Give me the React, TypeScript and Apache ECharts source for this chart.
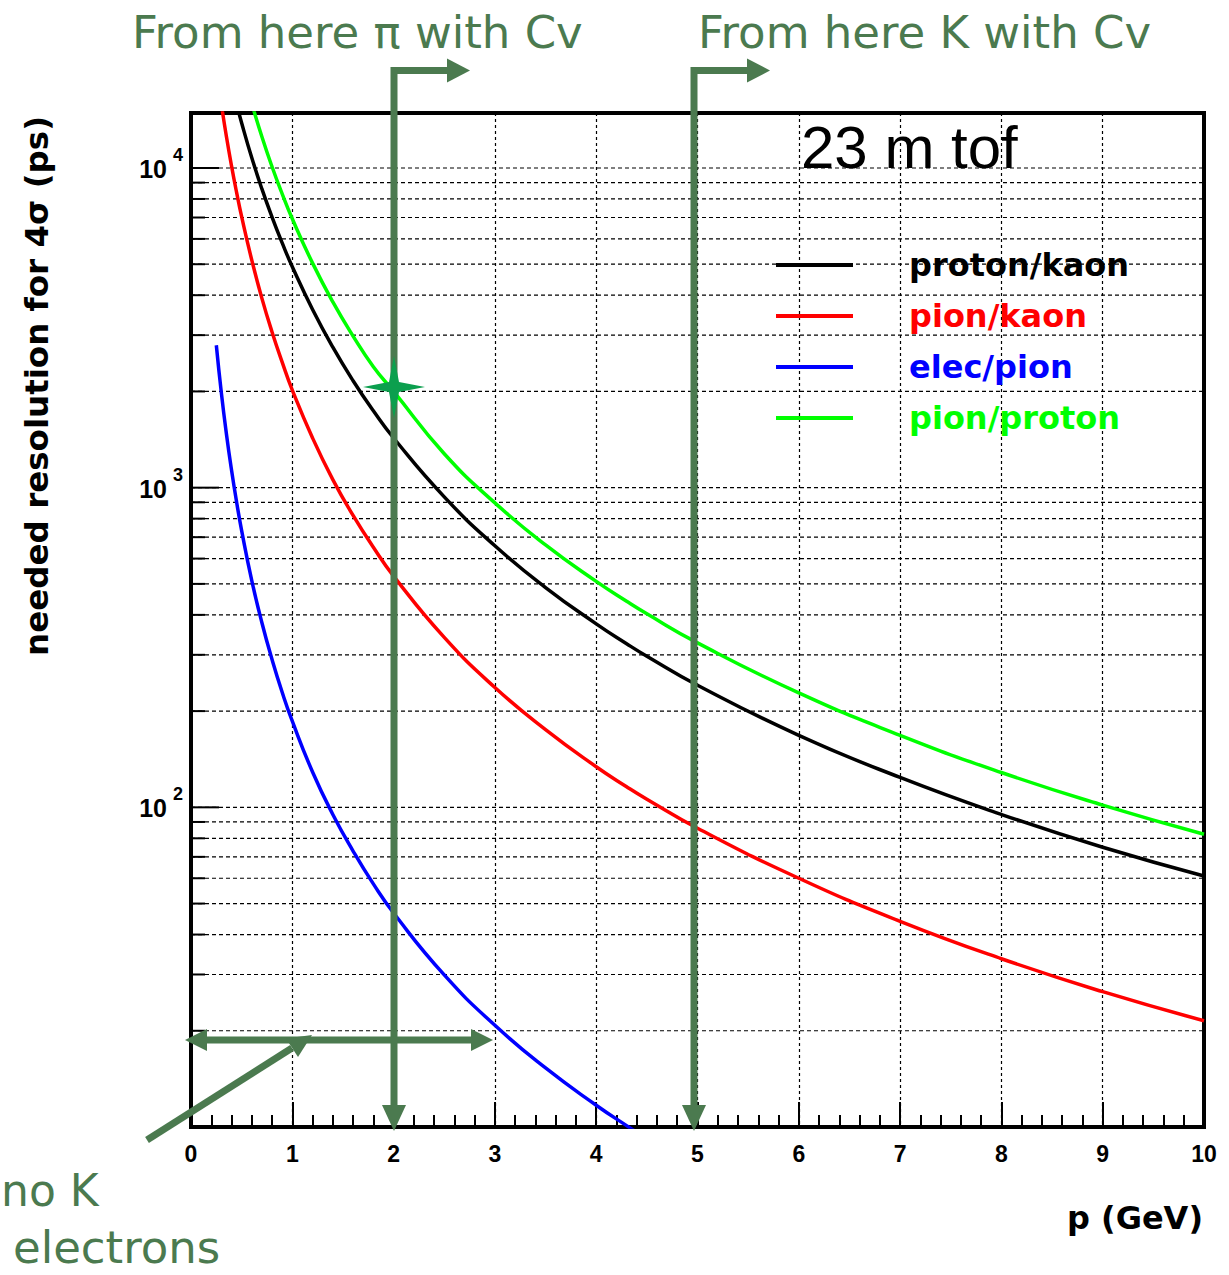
import React, { useEffect, useRef } from "react";
import * as echarts from "echarts";

const momentum = [0.25, 0.3, 0.35, 0.4, 0.45, 0.5, 0.6, 0.7, 0.8, 0.9, 1, 1.2, 1.4, 1.6, 1.8, 2, 2.5, 3, 3.5, 4, 4.3, 4.5, 5, 6, 7, 8, 9, 10];

// needed resolution for 4 sigma (ps)
const protonKaon = [null, null, null, null, 15880, 13830, 10760, 8600, 7020, 5830, 4910, 3610, 2750, 2160, 1740, 1430, 936, 658, 487, 375, 325, 297, 241, 168, 124, 95, 75, 61];
const pionKaon = [null, 15780, 12520, 10150, 8390, 7040, 5150, 3910, 3070, 2470, 2020, 1430, 1060, 819, 651, 529, 340, 237, 175, 134, 116, 106, 86, 60, 44, 33.6, 26.5, 21.5];
const elecPion = [2790, 1975, 1470, 1135, 902, 734, 512, 378, 290, 229, 186, 129, 95, 73, 57.6, 46.7, 29.9, 20.8, 15.3, 11.7, 10.1, 9.2, null, null, null, null, null, null];
const pionProton = [null, null, null, null, null, null, 15910, 12520, 10090, 8300, 6935, 5040, 3810, 2980, 2390, 2000, 1277, 896, 662, 509, 441, 403, 327, 228, 168, 128.5, 101.6, 82.4];

const seriesNames = ["proton/kaon", "pion/kaon", "elec/pion", "pion/proton"];
const seriesColors = ["#000000", "#ff0000", "#0000ff", "#00ff00"];

// horizontal grid lines of the log axis (1..9 x decade)
const yGridValues = [
  20, 30, 40, 50, 60, 70, 80, 90, 100,
  200, 300, 400, 500, 600, 700, 800, 900, 1000,
  2000, 3000, 4000, 5000, 6000, 7000, 8000, 9000, 10000,
];
const yLabelExponents = [2, 3, 4];

const X_MIN = 0;
const X_MAX = 10;
const Y_MIN = 10;
const Y_MAX = 14860;

const ANNOT = "#4b7a4f";

function pairs(vals: (number | null)[]) {
  const out: number[][] = [];
  momentum.forEach((p, i) => {
    const v = vals[i];
    if (v != null) out.push([p, v]);
  });
  return out;
}

export default function App() {
  const ref = useRef<HTMLDivElement>(null);

  useEffect(() => {
    document.body.style.margin = "0";
    const chart = echarts.init(ref.current as HTMLDivElement, undefined, { renderer: "svg" });

    const allVals = [protonKaon, pionKaon, elecPion, pionProton];

    const lineSeries = allVals.map((vals, i) => ({
      type: "line",
      name: seriesNames[i],
      data: pairs(vals),
      showSymbol: false,
      smooth: 0.5,
      clip: true,
      silent: true,
      z: 5,
      lineStyle: { color: seriesColors[i], width: 3.5 },
      itemStyle: { color: seriesColors[i] },
    }));

    const gridSeries = {
      type: "custom",
      name: "ygrid",
      silent: true,
      z: 2,
      data: yGridValues.map((v) => [0, v]),
      encode: { x: 0, y: 1 },
      renderItem: (params: any, api: any) => {
        const v = api.value(1);
        const p0 = api.coord([X_MIN, v]);
        const p1 = api.coord([X_MAX, v]);
        const lg = Math.log10(v);
        const major = Math.abs(lg - Math.round(lg)) < 1e-6;
        return {
          type: "group",
          children: [
            {
              type: "line",
              shape: { x1: p0[0], y1: p0[1], x2: p1[0], y2: p1[1] },
              style: { stroke: "#000", lineWidth: 1.2, lineDash: [4, 3] },
            },
            {
              type: "line",
              shape: { x1: p0[0], y1: p0[1], x2: p0[0] + (major ? 28 : 14), y2: p0[1] },
              style: { stroke: "#000", lineWidth: 2 },
            },
          ],
        };
      },
    };

    const arrowStyle = { stroke: ANNOT, lineWidth: 7, fill: "none", lineJoin: "miter" };
    const headStyle = { fill: ANNOT };

    const cornerArrow = (x: number) => [
      {
        type: "polyline",
        shape: { points: [[x + 54, 70.5], [x, 70.5], [x, 1108]] },
        style: arrowStyle,
        z: 100,
      },
      {
        type: "polygon",
        shape: { points: [[x + 53, 58.5], [x + 53, 82.5], [x + 76, 70.5]] },
        style: headStyle,
        z: 100,
      },
      {
        type: "polygon",
        shape: { points: [[x - 12, 1105], [x + 12, 1105], [x, 1131]] },
        style: headStyle,
        z: 100,
      },
    ];

    const option: any = {
      animation: false,
      backgroundColor: "#ffffff",
      grid: {
        left: 191,
        top: 113,
        width: 1013,
        height: 1014,
        show: true,
        borderColor: "#000",
        borderWidth: 4,
        backgroundColor: "transparent",
      },
      legend: {
        orient: "vertical",
        left: 776,
        top: 249,
        padding: 0,
        itemWidth: 77,
        itemHeight: 4,
        itemGap: 19,
        icon: "rect",
        selectedMode: false,
        data: seriesNames.map((n, i) => ({ name: n, textStyle: { color: seriesColors[i] } })),
        formatter: "{t|{name}}",
        textStyle: {
          fontFamily: "DejaVu Sans",
          fontWeight: "bold",
          fontSize: 32,
          lineHeight: 32,
          rich: {
            t: {
              fontFamily: "DejaVu Sans",
              fontWeight: "bold",
              fontSize: 32,
              lineHeight: 32,
              padding: [0, 0, 0, 51],
            },
          },
        },
      },
      xAxis: {
        type: "value",
        min: X_MIN,
        max: X_MAX,
        interval: 1,
        axisLine: { lineStyle: { color: "#000", width: 3 } },
        axisTick: { inside: true, length: 25, lineStyle: { color: "#000", width: 2 } },
        minorTick: { show: true, splitNumber: 5, length: 12, lineStyle: { color: "#000", width: 2 } },
        splitLine: { show: true, lineStyle: { color: "#000", width: 1.2, type: [3, 3] } },
        axisLabel: {
          margin: 15,
          color: "#000",
          fontFamily: "Liberation Sans",
          fontWeight: "bold",
          fontSize: 23,
        },
      },
      yAxis: {
        type: "log",
        logBase: 10,
        min: Y_MIN,
        max: Y_MAX,
        axisLine: { lineStyle: { color: "#000", width: 3 } },
        axisTick: { show: false },
        splitLine: { show: false },
        axisLabel: {
          showMaxLabel: false,
          showMinLabel: false,
          margin: 8,
          color: "#000",
          formatter: (v: number) => {
            const lg = Math.log10(v);
            const e = Math.round(lg);
            if (Math.abs(lg - e) > 1e-6 || yLabelExponents.indexOf(e) < 0) return "";
            return `{b|10}{s|${e}}`;
          },
          rich: {
            b: {
              fontFamily: "Liberation Sans",
              fontWeight: "bold",
              fontSize: 25,
              color: "#000",
              padding: [2, 0, 0, 0],
            },
            s: {
              fontFamily: "Liberation Sans",
              fontWeight: "bold",
              fontSize: 18,
              color: "#000",
              padding: [0, 0, 26, 6],
            },
          },
        },
      },
      series: [gridSeries, ...lineSeries],
      graphic: [
        {
          type: "text",
          x: 37,
          y: 386,
          rotation: Math.PI / 2,
          style: {
            text: "needed resolution for 4σ (ps)",
            fontFamily: "DejaVu Sans",
            fontWeight: "bold",
            fontSize: 32.5,
            fill: "#000",
            align: "center",
            verticalAlign: "middle",
          },
        },
        {
          type: "text",
          x: 1203,
          y: 1218,
          style: {
            text: "p (GeV)",
            fontFamily: "DejaVu Sans",
            fontWeight: "bold",
            fontSize: 32,
            fill: "#000",
            align: "right",
            verticalAlign: "middle",
          },
        },
        {
          type: "text",
          x: 801,
          y: 147,
          style: {
            text: "23 m tof",
            fontFamily: "Liberation Sans",
            fontSize: 60,
            fill: "#000",
            align: "left",
            verticalAlign: "middle",
          },
        },
        {
          type: "text",
          x: 132,
          y: 32,
          style: {
            text: "From here π with Cv",
            fontFamily: "DejaVu Sans",
            fontSize: 45,
            fill: ANNOT,
            align: "left",
            verticalAlign: "middle",
          },
        },
        {
          type: "text",
          x: 698,
          y: 32,
          style: {
            text: "From here K with Cv",
            fontFamily: "DejaVu Sans",
            fontSize: 45,
            fill: ANNOT,
            align: "left",
            verticalAlign: "middle",
          },
        },
        {
          type: "text",
          x: 1,
          y: 1190,
          style: {
            text: "no K",
            fontFamily: "DejaVu Sans",
            fontSize: 44,
            fill: ANNOT,
            align: "left",
            verticalAlign: "middle",
          },
        },
        {
          type: "text",
          x: 13,
          y: 1247,
          style: {
            text: "electrons",
            fontFamily: "DejaVu Sans",
            fontSize: 45,
            fill: ANNOT,
            align: "left",
            verticalAlign: "middle",
          },
        },
        ...cornerArrow(394),
        ...cornerArrow(694),
        {
          type: "line",
          shape: { x1: 205, y1: 1040, x2: 473, y2: 1040 },
          style: { stroke: ANNOT, lineWidth: 7 },
          z: 100,
        },
        {
          type: "polygon",
          shape: { points: [[207, 1029], [207, 1051], [185, 1040]] },
          style: headStyle,
          z: 100,
        },
        {
          type: "polygon",
          shape: { points: [[471, 1029], [471, 1051], [493, 1040]] },
          style: headStyle,
          z: 100,
        },
        {
          type: "line",
          shape: { x1: 147, y1: 1140, x2: 292, y2: 1048 },
          style: { stroke: ANNOT, lineWidth: 7 },
          z: 100,
        },
        {
          type: "polygon",
          shape: { points: [[298, 1057], [286, 1038.6], [312, 1035]] },
          style: headStyle,
          z: 100,
        },
        {
          type: "polygon",
          shape: {
            points: [
              [394, 356], [399, 382], [425, 387], [399, 392],
              [394, 418], [389, 392], [363, 387], [389, 382],
            ],
          },
          style: { fill: "#0c9f4e" },
          z: 101,
        },
      ],
    };

    chart.setOption(option);
    return () => chart.dispose();
  }, []);

  return <div ref={ref} style={{ width: 1229, height: 1275 }} />;
}
